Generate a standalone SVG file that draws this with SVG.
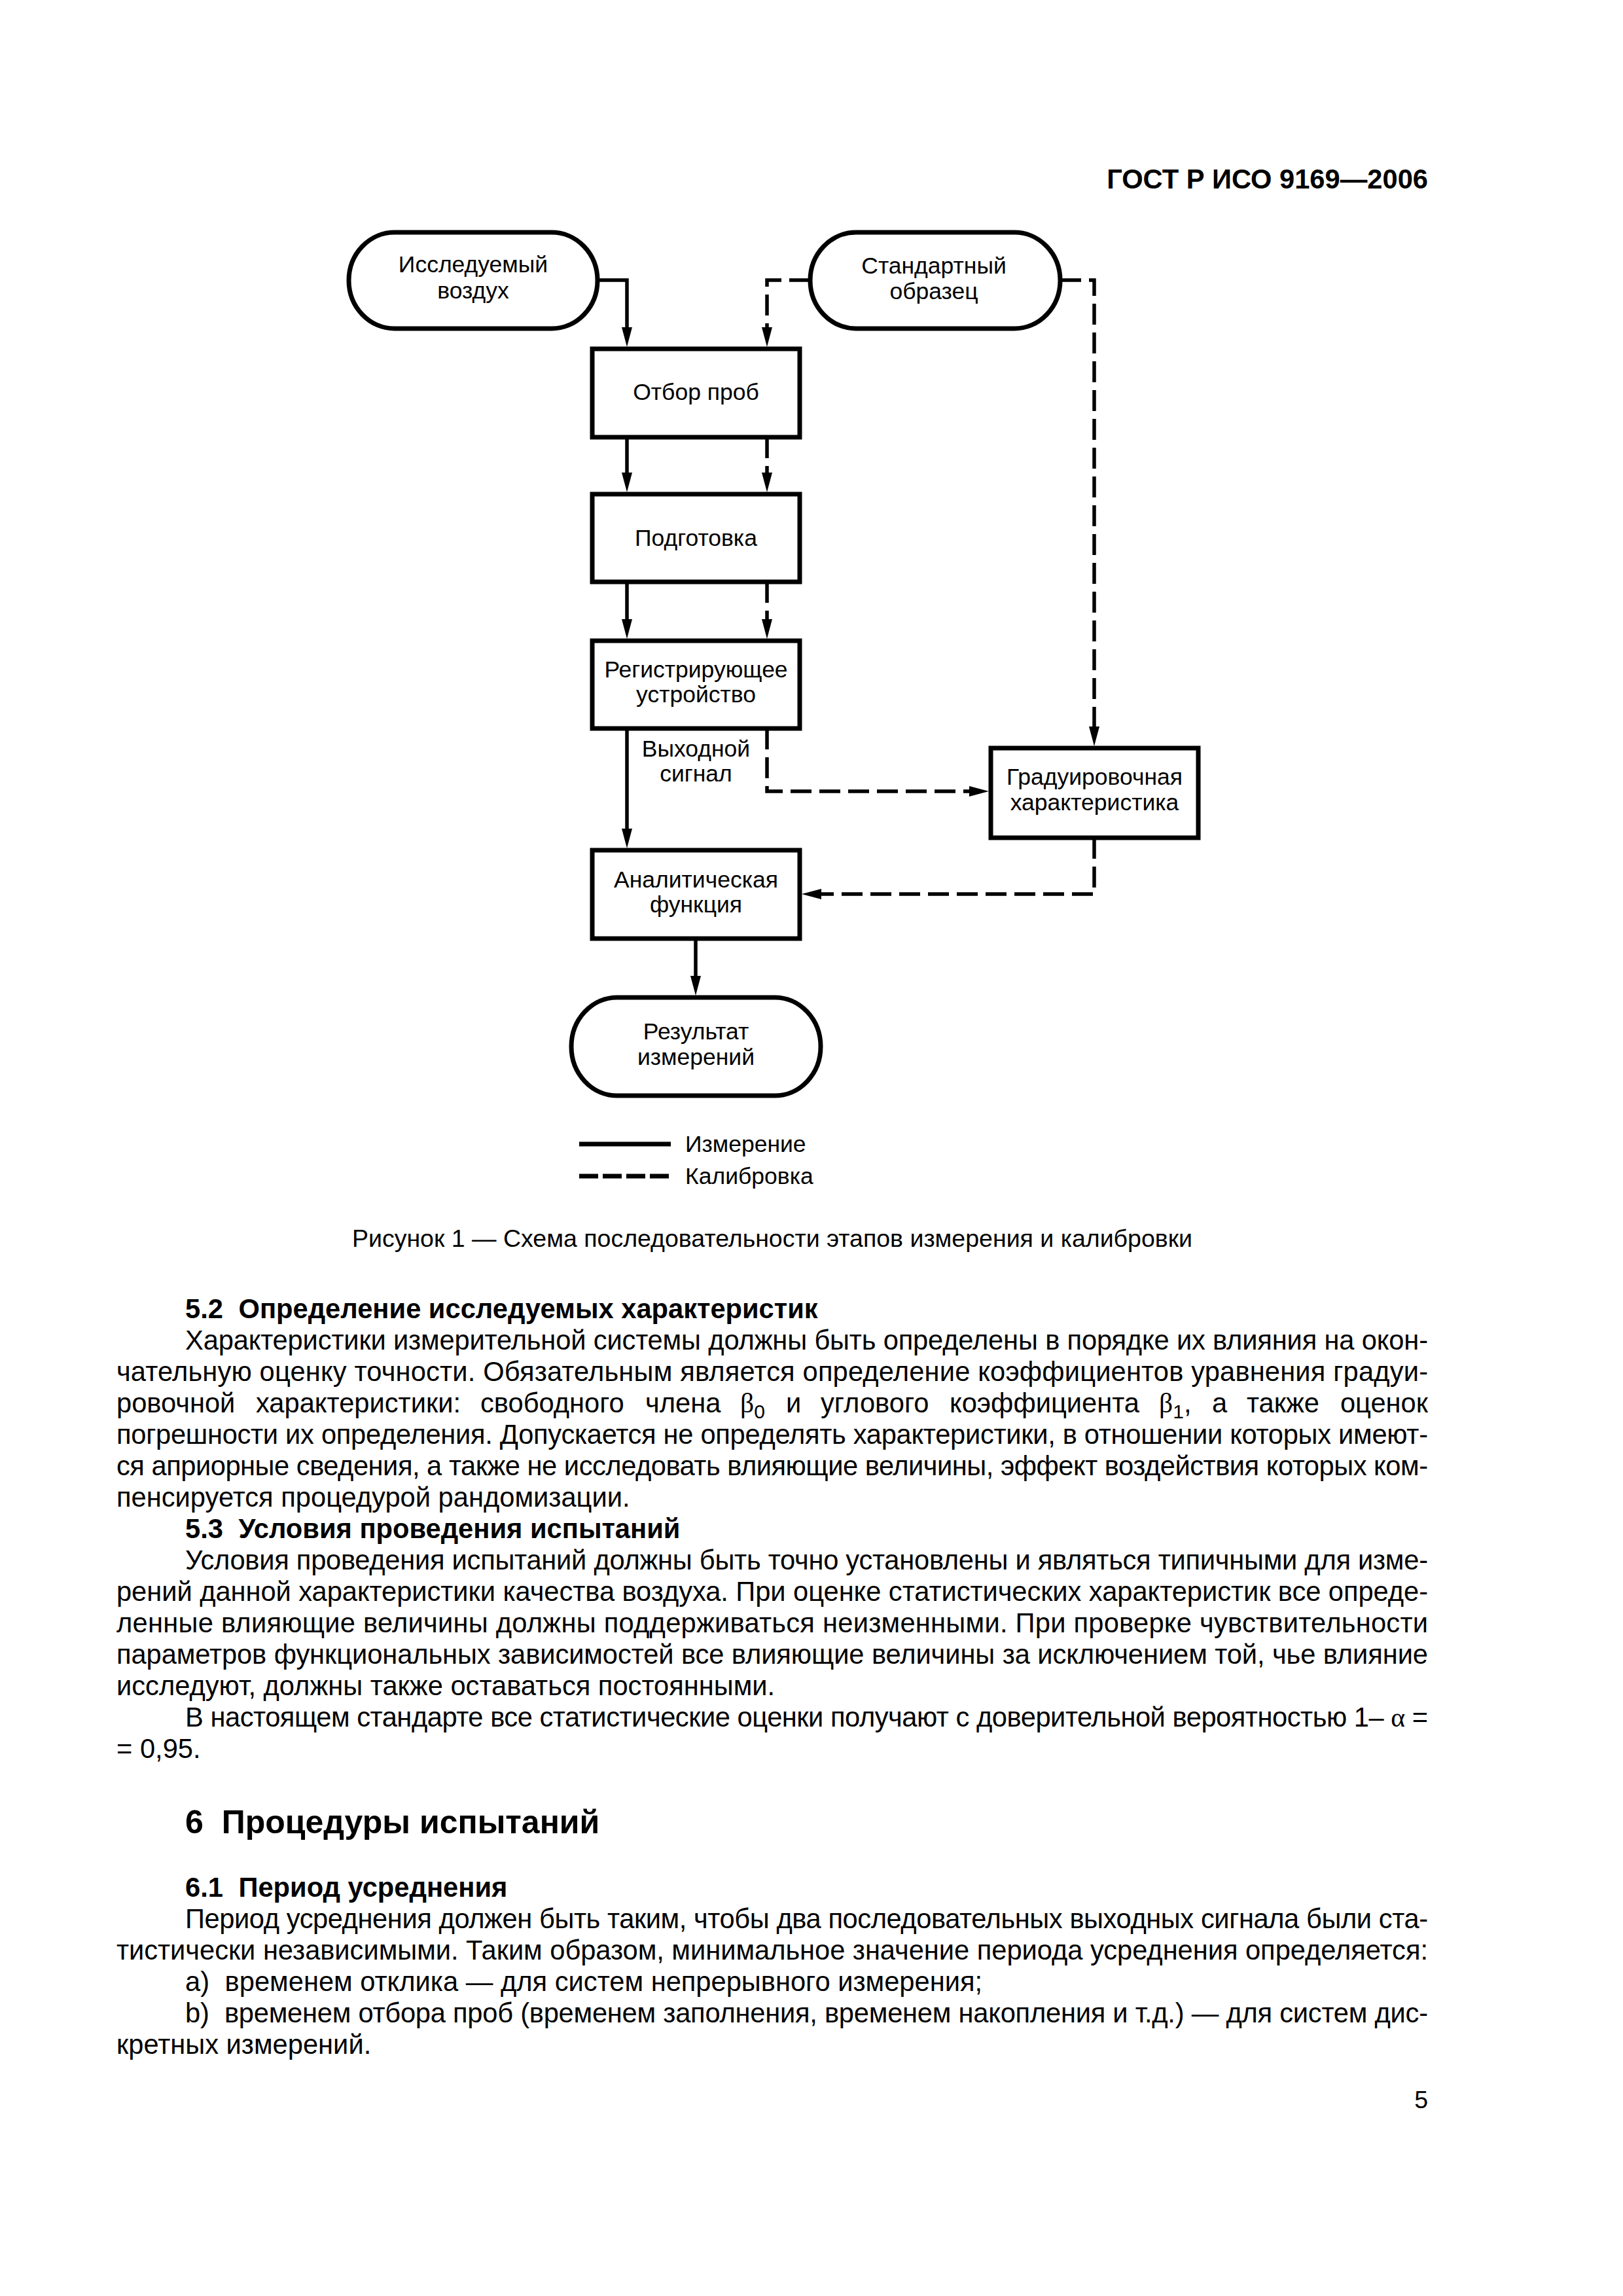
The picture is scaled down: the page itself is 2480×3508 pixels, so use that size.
<svg xmlns="http://www.w3.org/2000/svg" width="2480" height="3508" viewBox="0 0 2480 3508">
<defs>
<style>
.bg{fill:#fff}
.box{fill:#fff;stroke:#000;stroke-width:7}
.c{fill:none;stroke:#000;stroke-width:5.5}
.d{stroke-dasharray:32 12}
.lbl{font-family:"Liberation Sans",Arial,sans-serif;font-size:35.5px;text-anchor:middle;fill:#000}
.leg{font-family:"Liberation Sans",Arial,sans-serif;font-size:35.5px;fill:#000}
.t{font-family:"Liberation Sans",Arial,sans-serif;font-size:41.67px;fill:#000}
.b{font-weight:bold}
.h1{font-size:50px}
.pn{font-size:37.5px}
.sub{font-size:30px}
.g{font-family:"Liberation Serif","Times New Roman",serif}
.cap{font-family:"Liberation Sans",Arial,sans-serif;font-size:37.5px;text-anchor:middle;fill:#000}
</style>
<marker id="arr" viewBox="0 0 30 16" markerWidth="30" markerHeight="16" refX="18" refY="8" orient="auto" markerUnits="userSpaceOnUse">
<path d="M0,0 L30,8 L0,16 Z" fill="#000" stroke="none"/>
</marker>
</defs>
<rect class="bg" x="0" y="0" width="2480" height="3508"/>

<text class="t b" x="2182" y="288" text-anchor="end">ГОСТ Р ИСО 9169—2006</text>

<g id="connectors">
<path class="c" d="M913,428 H958 V518" marker-end="url(#arr)"/>
<path class="c d" d="M1238,428 H1172 V518" marker-end="url(#arr)"/>
<path class="c d" d="M1620,428 H1672 V1128" marker-end="url(#arr)"/>
<path class="c" d="M958,668 V740" marker-end="url(#arr)"/>
<path class="c d" d="M1172,668 V740" marker-end="url(#arr)"/>
<path class="c" d="M958,889 V964" marker-end="url(#arr)"/>
<path class="c d" d="M1172,889 V964" marker-end="url(#arr)"/>
<path class="c" d="M958,1113 V1284" marker-end="url(#arr)"/>
<path class="c d" d="M1172,1113 V1209 H1499" marker-end="url(#arr)"/>
<path class="c d" d="M1672,1280 V1366 H1237" marker-end="url(#arr)"/>
<path class="c" d="M1063,1434 V1509" marker-end="url(#arr)"/>
</g>

<g id="node-air">
<rect class="box" x="533" y="355" width="380" height="147" rx="70" ry="73.5"/>
<text class="lbl" x="723" y="416">Исследуемый</text>
<text class="lbl" x="723" y="456">воздух</text>
</g>
<g id="node-standard">
<rect class="box" x="1238" y="355" width="382" height="147" rx="70" ry="73.5"/>
<text class="lbl" x="1427" y="418">Стандартный</text>
<text class="lbl" x="1427" y="457">образец</text>
</g>
<g id="node-sampling">
<rect class="box" x="905" y="533" width="317" height="135"/>
<text class="lbl" x="1063.5" y="611">Отбор проб</text>
</g>
<g id="node-preparation">
<rect class="box" x="905" y="755" width="317" height="134"/>
<text class="lbl" x="1063.5" y="834">Подготовка</text>
</g>
<g id="node-recorder">
<rect class="box" x="905" y="979" width="317" height="134"/>
<text class="lbl" x="1063.5" y="1035">Регистрирующее</text>
<text class="lbl" x="1063.5" y="1073">устройство</text>
</g>
<g id="label-output">
<text class="lbl" x="1063.5" y="1156">Выходной</text>
<text class="lbl" x="1063.5" y="1194">сигнал</text>
</g>
<g id="node-calibration">
<rect class="box" x="1514" y="1143" width="317" height="137"/>
<text class="lbl" x="1672.5" y="1199">Градуировочная</text>
<text class="lbl" x="1672.5" y="1238">характеристика</text>
</g>
<g id="node-analytic">
<rect class="box" x="905" y="1299" width="317" height="135"/>
<text class="lbl" x="1063.5" y="1356">Аналитическая</text>
<text class="lbl" x="1063.5" y="1394">функция</text>
</g>
<g id="node-result">
<rect class="box" x="873" y="1524" width="381" height="150" rx="70" ry="75"/>
<text class="lbl" x="1063.5" y="1588">Результат</text>
<text class="lbl" x="1063.5" y="1627">измерений</text>
</g>

<g id="legend">
<line x1="885" y1="1748" x2="1025" y2="1748" stroke="#000" stroke-width="7"/>
<line x1="885" y1="1797" x2="1025" y2="1797" stroke="#000" stroke-width="7" stroke-dasharray="29 7"/>
<text class="leg" x="1047" y="1760">Измерение</text>
<text class="leg" x="1047" y="1809">Калибровка</text>
</g>

<text class="cap" x="1180" y="1905">Рисунок 1 — Схема последовательности этапов измерения и калибровки</text>

<g id="body">
<text class="t b" x="283" y="2014">5.2<tspan dx="12"> Определение исследуемых характеристик</tspan></text>
<text class="t" x="283" y="2062" textLength="1899" lengthAdjust="spacing">Характеристики измерительной системы должны быть определены в порядке их влияния на окон-</text>
<text class="t" x="178" y="2110" textLength="2004" lengthAdjust="spacing">чательную оценку точности. Обязательным является определение коэффициентов уравнения градуи-</text>
<text class="t" x="178" y="2158">ровочной</text>
<text class="t" x="391" y="2158">характеристики:</text>
<text class="t" x="734" y="2158">свободного</text>
<text class="t" x="986" y="2158">члена</text>
<text class="t" x="1131" y="2158"><tspan class="g">β</tspan><tspan class="sub" dy="9">0</tspan></text>
<text class="t" x="1201" y="2158">и</text>
<text class="t" x="1254" y="2158">углового</text>
<text class="t" x="1451" y="2158">коэффициента</text>
<text class="t" x="1771" y="2158"><tspan class="g">β</tspan><tspan class="sub" dy="9">1</tspan><tspan dy="-9">,</tspan></text>
<text class="t" x="1852" y="2158">а</text>
<text class="t" x="1905" y="2158">также</text>
<text class="t" x="2182" y="2158" text-anchor="end">оценок</text>
<text class="t" x="178" y="2206" textLength="2004" lengthAdjust="spacing">погрешности их определения. Допускается не определять характеристики, в отношении которых имеют-</text>
<text class="t" x="178" y="2254" textLength="2004" lengthAdjust="spacing">ся априорные сведения, а также не исследовать влияющие величины, эффект воздействия которых ком-</text>
<text class="t" x="178" y="2302">пенсируется процедурой рандомизации.</text>
<text class="t b" x="283" y="2350">5.3<tspan dx="12"> Условия проведения испытаний</tspan></text>
<text class="t" x="283" y="2398" textLength="1899" lengthAdjust="spacing">Условия проведения испытаний должны быть точно установлены и являться типичными для изме-</text>
<text class="t" x="178" y="2446" textLength="2004" lengthAdjust="spacing">рений данной характеристики качества воздуха. При оценке статистических характеристик все опреде-</text>
<text class="t" x="178" y="2494" textLength="2004" lengthAdjust="spacing">ленные влияющие величины должны поддерживаться неизменными. При проверке чувствительности</text>
<text class="t" x="178" y="2542" textLength="2004" lengthAdjust="spacing">параметров функциональных зависимостей все влияющие величины за исключением той, чье влияние</text>
<text class="t" x="178" y="2590">исследуют, должны также оставаться постоянными.</text>
<text class="t" x="283" y="2638" textLength="1899" lengthAdjust="spacing">В настоящем стандарте все статистические оценки получают с доверительной вероятностью 1– <tspan class="g">α</tspan> =</text>
<text class="t" x="178" y="2686">= 0,95.</text>

<text class="t b h1" x="283" y="2801">6<tspan dx="14"> Процедуры испытаний</tspan></text>
<text class="t b" x="283" y="2898">6.1<tspan dx="12"> Период усреднения</tspan></text>
<text class="t" x="283" y="2946" textLength="1899" lengthAdjust="spacing">Период усреднения должен быть таким, чтобы два последовательных выходных сигнала были ста-</text>
<text class="t" x="178" y="2994" textLength="2004" lengthAdjust="spacing">тистически независимыми. Таким образом, минимальное значение периода усреднения определяется:</text>
<text class="t" x="283" y="3042">a)<tspan dx="12"> временем отклика — для систем непрерывного измерения;</tspan></text>
<text class="t" x="283" y="3090" textLength="1899" lengthAdjust="spacing">b)<tspan dx="12"> временем отбора проб (временем заполнения, временем накопления и т.д.) — для систем дис-</tspan></text>
<text class="t" x="178" y="3138">кретных измерений.</text>
</g>

<text class="t pn" x="2182" y="3221" text-anchor="end">5</text>
</svg>
